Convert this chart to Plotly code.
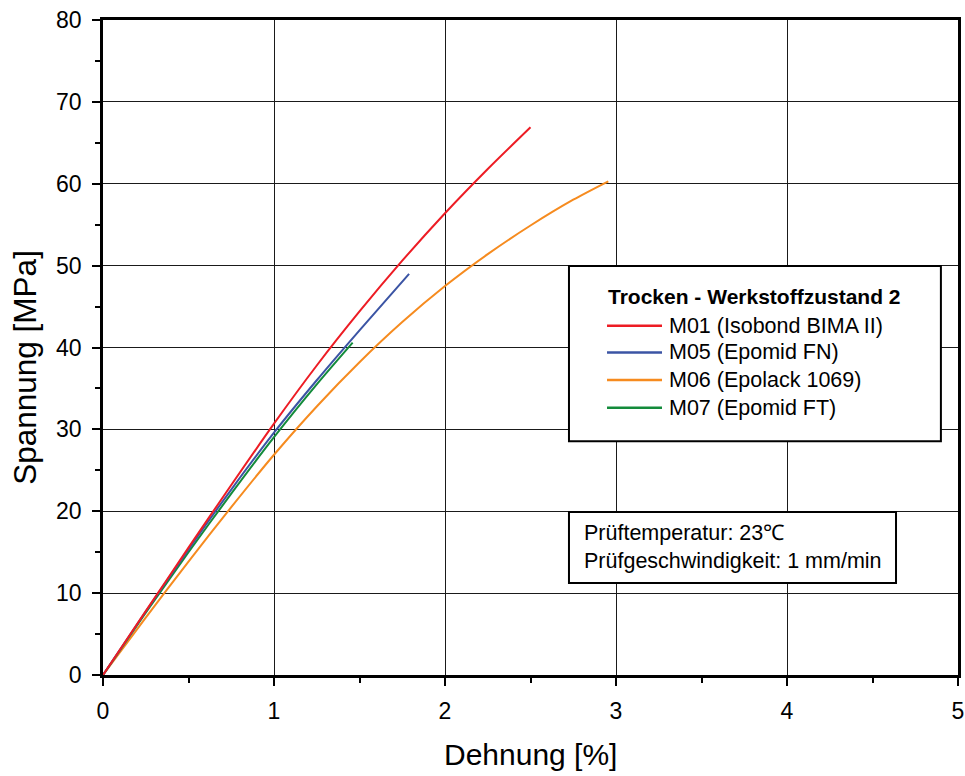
import plotly.graph_objects as go

# Stress-strain curves (Dehnung in %, Spannung in MPa)
m01_x = [0, 0.25, 0.5, 0.75, 1.0, 1.25, 1.5, 1.75, 2.0, 2.25, 2.5]
m01_y = [0, 7.8, 15.55, 23.2, 30.7, 37.8, 44.4, 50.6, 56.4, 61.8, 66.9]

m05_x = [0, 0.25, 0.5, 0.75, 1.0, 1.25, 1.5, 1.79]
m05_y = [0, 7.75, 15.35, 22.65, 29.6, 36.0, 42.1, 49.0]

m06_x = [0, 0.25, 0.5, 0.75, 1.0, 1.25, 1.5, 1.75, 2.0, 2.25, 2.5, 2.75, 2.955]
m06_y = [0, 7.0, 13.85, 20.5, 26.9, 32.8, 38.2, 43.1, 47.5, 51.4, 54.9, 58.05, 60.3]

m07_x = [0, 0.25, 0.5, 0.75, 1.0, 1.25, 1.46]
m07_y = [0, 7.6, 15.0, 22.15, 29.05, 35.5, 40.6]

series_names = ["M01 (Isobond BIMA II)", "M05 (Epomid FN)", "M06 (Epolack 1069)", "M07 (Epomid FT)"]
series_colors = ["#ED1C24", "#3B54A4", "#F68B1F", "#138B3B"]
series_x = [m01_x, m05_x, m06_x, m07_x]
series_y = [m01_y, m05_y, m06_y, m07_y]

legend_title = "Trocken - Werkstoffzustand 2"
info_lines = ["Prüftemperatur: 23℃", "Prüfgeschwindigkeit: 1 mm/min"]
x_title = "Dehnung [%]"
y_title = "Spannung [MPa]"

x_ticks = [0, 1, 2, 3, 4, 5]
y_ticks = [0, 10, 20, 30, 40, 50, 60, 70, 80]

FONT = "Liberation Sans, Arial, sans-serif"

fig = go.Figure()
# draw order: orange under the others, red on top
for i in [2, 3, 1, 0]:
    fig.add_trace(go.Scatter(
        x=series_x[i], y=series_y[i], mode="lines", name=series_names[i],
        line=dict(color=series_colors[i], width=2, shape="spline", smoothing=0.8),
        showlegend=False,
    ))

axis_common = dict(
    showline=True, linecolor="black", linewidth=2.5, mirror=True,
    showgrid=True, gridcolor="#1a1a1a", gridwidth=1,
    zeroline=False, automargin=False,
    ticks="outside", ticklen=8, tickwidth=2, tickcolor="black",
    tickfont=dict(family=FONT, size=23, color="black"),
)

fig.update_xaxes(
    range=[0, 5], tickvals=x_ticks, ticklabelstandoff=6,
    minor=dict(dtick=0.5, ticks="outside", ticklen=5, tickwidth=1.5, tickcolor="black", showgrid=False),
    **axis_common,
)
fig.update_yaxes(
    range=[0, 80], tickvals=y_ticks, ticklabelstandoff=6,
    minor=dict(dtick=5, ticks="outside", ticklen=5, tickwidth=1.5, tickcolor="black", showgrid=False),
    **axis_common,
)

shapes = []
annotations = []

# axis titles
annotations.append(dict(xref="paper", yref="paper", x=0.5, y=-0.122, xanchor="center", yanchor="middle",
                        text=x_title, showarrow=False, font=dict(family=FONT, size=30, color="black")))
annotations.append(dict(xref="paper", yref="paper", x=-0.0905, y=0.470, xanchor="center", yanchor="middle",
                        text=y_title, textangle=-90, showarrow=False,
                        font=dict(family=FONT, size=31.5, color="black")))

# legend box
shapes.append(dict(type="rect", xref="paper", yref="paper", x0=0.545, x1=0.980, y0=0.357, y1=0.6244,
                   line=dict(color="black", width=2), fillcolor="white", layer="above"))
annotations.append(dict(xref="paper", yref="paper", x=0.5885, y=0.5771, xanchor="left", yanchor="middle",
                        text="<b>" + legend_title + "</b>", showarrow=False,
                        font=dict(family=FONT, size=21, color="black")))
entry_y = [0.5333, 0.4924, 0.4504, 0.4081]
for name, color, ey in zip(series_names, series_colors, entry_y):
    shapes.append(dict(type="line", xref="paper", yref="paper", x0=0.5895, x1=0.6538, y0=ey, y1=ey,
                       line=dict(color=color, width=2.5), layer="above"))
    annotations.append(dict(xref="paper", yref="paper", x=0.6595, y=ey, xanchor="left", yanchor="middle",
                            text=name, showarrow=False, font=dict(family=FONT, size=21.5, color="black")))

# test conditions box
shapes.append(dict(type="rect", xref="paper", yref="paper", x0=0.545, x1=0.9275, y0=0.1405, y1=0.2489,
                   line=dict(color="black", width=2), fillcolor="white", layer="above"))
annotations.append(dict(xref="paper", yref="paper", x=0.5605, y=0.1947, xanchor="left", yanchor="middle",
                        align="left", text="<br>".join(info_lines), showarrow=False,
                        font=dict(family=FONT, size=21.5, color="black")))

fig.update_layout(
    width=965, height=776,
    margin=dict(l=103, r=7, t=20, b=101),
    paper_bgcolor="white", plot_bgcolor="white",
    shapes=shapes, annotations=annotations,
    showlegend=False,
)

fig.write_html("out.html")
